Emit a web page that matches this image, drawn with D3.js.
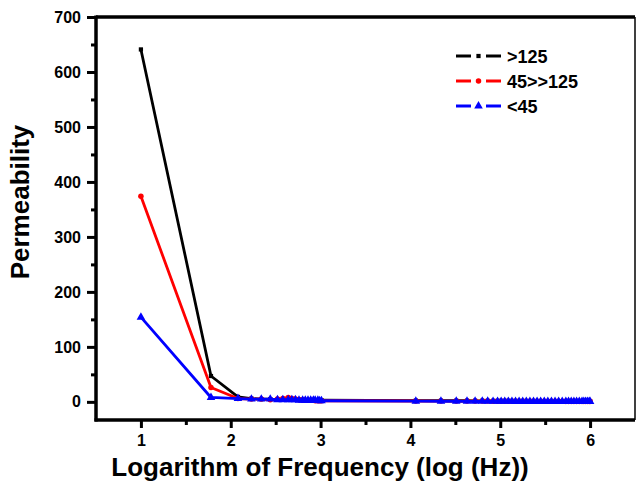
<!DOCTYPE html>
<html><head><meta charset="utf-8">
<script src="https://cdn.jsdelivr.net/npm/d3@7"></script>
<style>html,body{margin:0;padding:0;background:#fff;}svg{display:block;font-family:"Liberation Sans",Arial,sans-serif;}</style>
</head><body>
<script>
const logFreq = [1.00, 1.78, 2.08, 2.23, 2.34, 2.44, 2.52, 2.58, 2.64, 2.68, 2.72, 2.76, 2.80, 2.83, 2.86, 2.89, 2.92, 2.94, 2.97, 2.99, 3.01,
  4.06, 4.34, 4.51, 4.63, 4.72, 4.80, 4.86, 4.92, 4.97, 5.01, 5.05, 5.09, 5.13, 5.17, 5.21, 5.25, 5.29, 5.33, 5.37,
  5.41, 5.45, 5.49, 5.53, 5.57, 5.61, 5.65, 5.69, 5.73, 5.76, 5.79, 5.82, 5.85, 5.88, 5.91, 5.93, 5.95, 5.97, 5.99, 6.00];
const permHigh = [641, 47, 9, 6, 5, 5, 4, 4, 5, 4, 4, 4, 3, 3, 3, 3, 3, 3, 3, 3, 3,
  2.2, 2.1, 2.0, 2.0, 1.9, 1.9, 1.8, 1.8, 1.8, 1.7, 1.7, 1.7, 1.6, 1.6, 1.6, 1.6, 1.5, 1.5, 1.5,
  1.5, 1.5, 1.4, 1.4, 1.4, 1.4, 1.4, 1.3, 1.3, 1.3, 1.3, 1.3, 1.3, 1.2, 1.2, 1.2, 1.2, 1.2, 1.2, 1.2];
const permMid = [374, 26, 6, 5, 5, 4, 5, 6, 8, 6, 5, 4, 4, 3, 3, 3, 3, 2, 2, 2, 2,
  1.6, 1.5, 1.5, 1.5, 1.4, 1.4, 1.4, 1.3, 1.3, 1.3, 1.3, 1.2, 1.2, 1.2, 1.2, 1.1, 1.1, 1.1, 1.1,
  1.1, 1.0, 1.0, 1.0, 1.0, 1.0, 1.0, 1.0, 0.9, 0.9, 0.9, 0.9, 0.9, 0.9, 0.9, 0.9, 0.9, 0.9, 0.9, 0.9];
const permLow = [154, 8, 6, 5, 5, 5, 4, 4, 4, 4, 4, 3, 3, 3, 3, 3, 3, 3, 3, 2, 2,
  1.2, 1.1, 1.1, 1.0, 1.0, 1.0, 1.0, 0.9, 0.9, 0.9, 0.9, 0.9, 0.9, 0.8, 0.8, 0.8, 0.8, 0.8, 0.8,
  0.8, 0.8, 0.7, 0.7, 0.7, 0.7, 0.7, 0.7, 0.7, 0.7, 0.7, 0.7, 0.7, 0.7, 0.7, 0.7, 0.7, 0.7, 0.7, 0.7];
const seriesNames = [">125", "45>>125", "<45"];
const seriesColors = ["#000000", "#ff0000", "#0000ff"];
const xTicks = [1, 2, 3, 4, 5, 6];
const xMinorTicks = [1.5, 2.5, 3.5, 4.5, 5.5];
const yTicks = [0, 100, 200, 300, 400, 500, 600, 700];
const yMinorTicks = [50, 150, 250, 350, 450, 550, 650];

const W = 637, H = 495;
const L = 96, R = 635, T = 17, B = 420;
const svg = d3.select("body").append("svg").attr("width", W).attr("height", H);
const x = d3.scaleLinear().domain([0.5, 6.5]).range([L, R]);
const y = d3.scaleLinear().domain([-33, 700]).range([B, T]);

// frame
svg.append("line").attr("x1", L).attr("x2", R).attr("y1", T).attr("y2", T).attr("stroke", "#000").attr("stroke-width", 3.5);
svg.append("line").attr("x1", R).attr("x2", R).attr("y1", T).attr("y2", B).attr("stroke", "#000").attr("stroke-width", 1.5);

// axes
const yAxis = svg.append("g").attr("transform", `translate(${L},0)`)
  .call(d3.axisLeft(y).tickValues(yTicks).tickSize(9).tickPadding(6).tickFormat(d3.format("d")));
const yMinor = svg.append("g").attr("transform", `translate(${L},0)`)
  .call(d3.axisLeft(y).tickValues(yMinorTicks).tickSize(5).tickFormat(""));
const xAxis = svg.append("g").attr("transform", `translate(0,${B})`)
  .call(d3.axisBottom(x).tickValues(xTicks).tickSize(8).tickPadding(7).tickFormat(d3.format("d")));
const xMinor = svg.append("g").attr("transform", `translate(0,${B})`)
  .call(d3.axisBottom(x).tickValues(xMinorTicks).tickSize(5).tickFormat(""));
[yAxis, yMinor, xAxis, xMinor].forEach(g => {
  g.select(".domain").remove();
  g.selectAll(".tick line").attr("stroke", "#000").attr("stroke-width", 3);
  g.selectAll(".tick text").attr("fill", "#000").attr("font-size", 16).attr("font-weight", "bold")
    .attr("font-family", '"Liberation Sans", Arial, sans-serif');
});
svg.append("line").attr("x1", L).attr("x2", L).attr("y1", T - 1.5).attr("y2", B + 1.5).attr("stroke", "#000").attr("stroke-width", 3.5);
svg.append("line").attr("x1", L - 1.5).attr("x2", R).attr("y1", B).attr("y2", B).attr("stroke", "#000").attr("stroke-width", 3.5);

// series
const series = [permHigh, permMid, permLow];
const symbols = [d3.symbolSquare, d3.symbolCircle, d3.symbolTriangle];
const symSizes = [18, 24, 32];
const line = d3.line().x(d => x(d[0])).y(d => y(d[1]));
series.forEach((vals, i) => {
  const pts = logFreq.map((f, j) => [f, vals[j]]);
  svg.append("path").datum(pts).attr("d", line).attr("fill", "none")
    .attr("stroke", seriesColors[i]).attr("stroke-width", 2.8).attr("stroke-linejoin", "round");
  svg.append("g").selectAll("path").data(pts).join("path")
    .attr("transform", d => `translate(${x(d[0])},${y(d[1])})`)
    .attr("d", d3.symbol().type(symbols[i]).size(symSizes[i]))
    .attr("fill", seriesColors[i]);
});

// legend
const legY = [56, 81, 106];
seriesNames.forEach((name, i) => {
  const g = svg.append("g").attr("transform", `translate(0,${legY[i]})`);
  g.append("line").attr("x1", 456).attr("x2", 471).attr("y1", 0).attr("y2", 0).attr("stroke", seriesColors[i]).attr("stroke-width", 3);
  g.append("line").attr("x1", 486).attr("x2", 501).attr("y1", 0).attr("y2", 0).attr("stroke", seriesColors[i]).attr("stroke-width", 3);
  g.append("path").attr("transform", "translate(478.5,0)")
    .attr("d", d3.symbol().type(symbols[i]).size(symSizes[i])).attr("fill", seriesColors[i]);
  g.append("text").attr("x", 507).attr("y", 6.5).attr("font-size", 18).attr("font-weight", "bold").attr("fill", "#000").text(name);
});

// axis titles
svg.append("text").attr("x", 320).attr("y", 476).attr("text-anchor", "middle")
  .attr("font-size", 26).attr("font-weight", "bold").text("Logarithm of Frequency (log (Hz))");
svg.append("text").attr("transform", "translate(29,202) rotate(-90)").attr("text-anchor", "middle")
  .attr("font-size", 26).attr("font-weight", "bold").text("Permeability");
</script>
</body></html>
